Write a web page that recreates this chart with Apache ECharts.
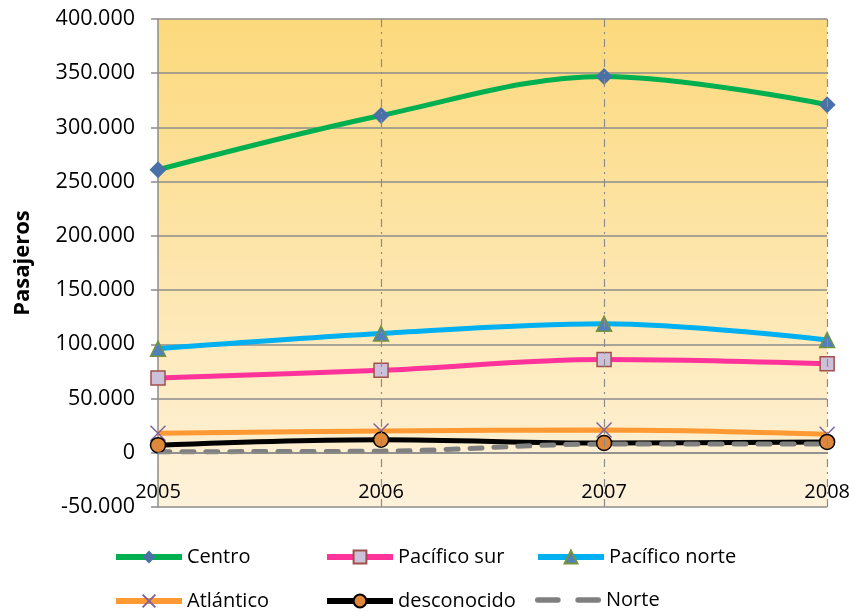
<!DOCTYPE html>
<html><head><meta charset="utf-8">
<script src="https://cdn.jsdelivr.net/npm/echarts@6/dist/echarts.min.js"></script>
<style>html,body{margin:0;padding:0;background:#fff}#c{width:853px;height:612px}</style>
</head><body><div id="c"></div>
<script>
const years = ['2005','2006','2007','2008'];
const centro = [261000, 311000, 347000, 321000];
const pacificoSur = [69000, 76000, 86000, 82000];
const pacificoNorte = [96000, 110000, 119000, 104000];
const atlantico = [18000, 20000, 21000, 17000];
const desconocido = [7000, 12000, 9000, 10000];
const norte = [1000, 1500, 8000, 8000];
const yTicks = {min: -50000, max: 400000, interval: 50000};

const FONT = 'Open Sans';
const fmt = v => {
  const s = Math.abs(v) === 0 ? '0' : (Math.abs(v)/1000).toFixed(0) + '.000';
  return (v < 0 ? '-' : '') + s;
};
const chart = echarts.init(document.getElementById('c'), null, {renderer:'canvas'});
function mk(name, data, color, symbol, symSize, itemStyle, extra) {
  return Object.assign({
    name, type:'line', data, smooth:0.35,
    symbol, symbolSize:symSize,
    lineStyle:{color, width:5},
    itemStyle,
    z: 3
  }, extra || {});
}
const series = [
  mk('Centro', centro, '#00B050', 'diamond', 17, {color:'#4A70A8', borderWidth:0}),
  mk('Pacífico sur', pacificoSur, '#FF3399', 'rect', 14, {color:'#CCC0DA', borderColor:'#A0504A', borderWidth:1.5}),
  mk('Pacífico norte', pacificoNorte, '#00B0F0', 'triangle', 15, {color:'#4F81BD', borderColor:'#77933C', borderWidth:1.5}),
  mk('Atlántico', atlantico, '#FF9933', 'path://M0,0L10,10M10,0L0,10', 15, {color:'none', borderColor:'#7E649E', borderWidth:1.5}),
  mk('desconocido', desconocido, '#000000', 'circle', 15, {color:'#E0873A', borderColor:'#000', borderWidth:1.5}),
  mk('Norte', norte, '#808080', 'none', 0, {color:'#808080'}, {lineStyle:{color:'#808080', width:5, type:[12,12], cap:'round'}, showSymbol:false})
];
function leg(name, left, top, icon, h) {
  const o = {data:[name], left, top, itemWidth:66, itemHeight:h || 16, itemGap:0,
    lineStyle:{width:6}, itemStyle:{},
    textStyle:{fontFamily:FONT, fontSize:20, color:'#000', padding:[0,0,0,0]}};
  if (icon) o.icon = icon;
  return o;
}
chart.setOption({
  animation:false,
  legend:[
    leg('Centro',108,542), leg('Pacífico sur',319,542), leg('Pacífico norte',530,542),
    leg('Atlántico',108,586), leg('desconocido',319,586),
    leg('Norte',530,585,'path://M0,0h22a3,3 0 0 1 0,6h-22a3,3 0 0 1 0,-6z M44,0h22a3,3 0 0 1 0,6h-22a3,3 0 0 1 0,-6z',6)
  ],
  grid:{left:158, right:25, top:19, bottom:105, show:true, borderWidth:0,
    backgroundColor:{type:'linear', x:0, y:0, x2:0, y2:1, colorStops:[
      {offset:0, color:'#FCD97C'}, {offset:1, color:'#FEF2DB'}]}},
  xAxis:{type:'category', data:years, boundaryGap:false, offset:-54,
    axisLine:{onZero:false, lineStyle:{color:'#8C8C8C', width:1.5}},
    axisTick:{show:false},
    axisLabel:{fontFamily:FONT, fontSize:20, color:'#000', margin:29, showMinLabel:true, showMaxLabel:true},
    splitLine:{show:true, showMinLine:false, lineStyle:{color:'#8C8C8C', width:1.2, type:[8,5,2,5]}},
    z:5
  },
  yAxis:{type:'value', min:yTicks.min, max:yTicks.max, interval:yTicks.interval,
    name:'Pasajeros', nameLocation:'middle', nameGap:124,
    nameTextStyle:{fontFamily:FONT, fontSize:22, fontWeight:'bold', color:'#000'},
    axisLine:{show:true, lineStyle:{color:'#8C8C8C', width:1.5}},
    axisTick:{show:true, length:7, lineStyle:{color:'#8C8C8C', width:1.5}},
    axisLabel:{fontFamily:FONT, fontSize:21.5, color:'#000', margin:23, formatter:fmt},
    splitLine:{show:true, lineStyle:{color:'#8C8C8C', width:1.5}}
  },
  series
});
</script></body></html>
